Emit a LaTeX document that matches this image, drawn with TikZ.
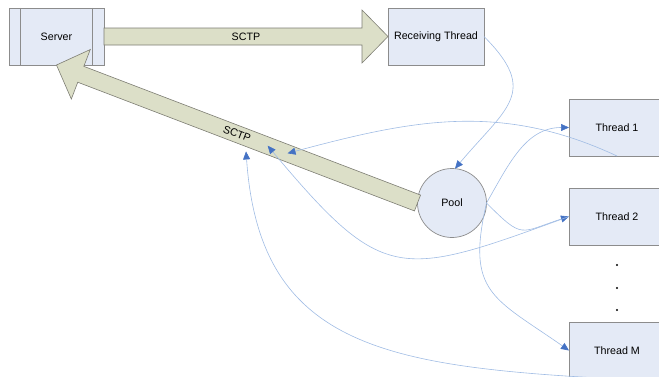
\documentclass[tikz,border=0pt]{standalone}
\usepackage{fontspec}
\setmainfont{Liberation Sans}
\usetikzlibrary{arrows.meta,calc}

\definecolor{boxfill}{RGB}{228,234,246}
\definecolor{boxline}{RGB}{140,140,140}
\definecolor{arrowfill}{RGB}{220,223,200}
\definecolor{arrowline}{RGB}{125,125,115}
\definecolor{linkblue}{RGB}{160,188,228}
\definecolor{tipblue}{RGB}{68,114,196}

\begin{document}
\begin{tikzpicture}[x=1pt,y=1pt]
\tikzstyle{every node} = [font=\fontsize{10.7}{12}\selectfont]
\tikzstyle{box} = [draw=boxline, fill=boxfill, line width=0.7pt, minimum width=96pt, minimum height=57pt, inner sep=0pt, outer sep=0pt]
\tikzstyle{pool} = [box, circle, minimum size=69pt]
\tikzstyle{link} = [draw=linkblue, line width=0.6pt, -{Triangle[length=8pt,width=7pt,color=tipblue]}]
\tikzset{sctp/.style={draw=arrowline, fill=arrowfill, line width=0.6pt, line join=miter,
  to path={let \p1=(\tikztostart), \p2=(\tikztotarget),
    \n1={atan2(\y2-\y1,\x2-\x1)}, \n2={veclen(\x2-\x1,\y2-\y1)-26} in
    ($(\p1)+(\n1+90:8.5)$) -- ++(\n1:\n2) -- ++(\n1+90:18) -- (\p2)
    -- ($(\p1)+(\n1-90:26.5)+(\n1:\n2)$) -- ++(\n1+90:18) -- ($(\p1)+(\n1-90:8.5)$) -- cycle}}}

\useasboundingbox (0,0) rectangle (659,376);
\clip (0,0) rectangle (659,376);

\node [box, minimum width=95pt] (srv) at (56.5, 339.5) {Server};
\draw [draw=boxline, line width=0.7pt] ($(srv.north west)+(11.5,0)$) -- ($(srv.south west)+(11.5,0)$);
\draw [draw=boxline, line width=0.7pt] ($(srv.north east)+(-11.5,0)$) -- ($(srv.south east)+(-11.5,0)$);
\node [box] (recv) at (436, 339.5) {Receiving Thread};
\node [box] (t1) at (617, 248.5) {Thread 1};
\node [box] (t2) at (617, 159.5) {Thread 2};
\node [box] (tm) at (617, 25.5) {Thread M};
\node [pool] (pool) at (452, 173) {};

\fill (617,111) circle (1.1pt);
\fill (617,88) circle (1.1pt);
\fill (617,66) circle (1.1pt);

% SCTP arrows
\draw [sctp] (srv.east) to (recv.west);
\node (lbla) at ($(srv.east)!0.5!(recv.west)$) {SCTP};
\draw [sctp] (pool.west) to (srv.south);
\node [rotate=-21] (lblb) at ($(pool.west)!0.5!(srv.south)$) {SCTP};
\node at (pool) {Pool};

\coordinate (in1) at ($(pool.west)!0.36!(srv.south)$);
\coordinate (in2) at ($(pool.west)!0.415!(srv.south)$);
\coordinate (in3) at ($(pool.west)!0.475!(srv.south)+(0,-14)$);

\draw [link] (recv.east) to [out=-45, in=50, looseness=1.5] (pool.85);
\draw [link] (pool.east) to [out=60, in=180] (t1.west);
\draw [link] (pool.east) to [out=-45, in=198, looseness=1.6] (t2.west);
\draw [link] (pool.east) to [out=-103, in=145, looseness=1.4] (tm.west);
\draw [link] (t1.south) to [out=155, in=15] (in1);
\draw [link] (t2.west) to [out=200, in=-50, looseness=1.5] (in2);
\draw [link] (tm.south) .. controls +(177:234) and +(-86:195) .. (in3);
\end{tikzpicture}
\end{document}
